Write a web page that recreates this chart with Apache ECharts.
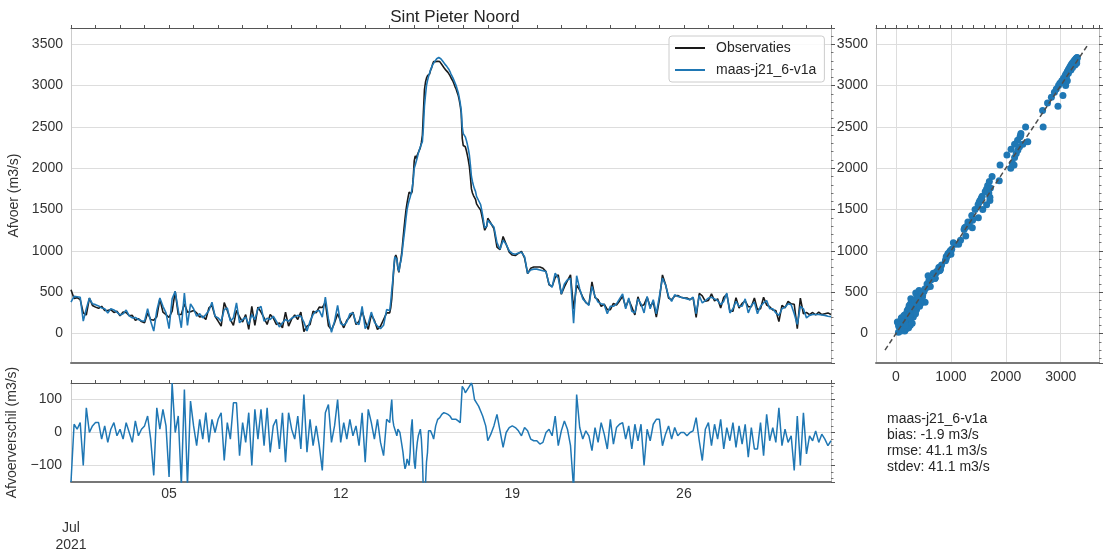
<!DOCTYPE html>
<html>
<head>
<meta charset="utf-8">
<script src="https://cdn.jsdelivr.net/npm/echarts@6/dist/echarts.min.js"></script>
<style>
  html, body { margin: 0; padding: 0; background: #ffffff; }
  #chart { width: 1104px; height: 549px; }
</style>
</head>
<body>
<div id="chart"></div>
<script>
// Discharge at Sint Pieter Noord, July 2021: model run against observations.
const stationName = 'Sint Pieter Noord';
const obsLabel = 'Observaties';
const modelLabel = 'maas-j21_6-v1a';

// Modelled discharge (m3/s) and model-minus-observation difference (m3/s).
// Low flow periods are 3-hourly, the flood wave of 14-17 July is hourly.

// 1-13 Jul, 3-hourly from 00:00
const modelEarly = [
  380, 450, 445, 440, 150, 300, 430, 360,
  350, 335, 310, 300, 250, 300, 285, 260,
  225, 240, 285, 215, 190, 195, 170, 155,
  150, 300, 150, 30, 280, 430, 330, 250,
  60, 420, 510, 280, 70, 490, 100, 360,
  300, 210, 240, 190, 230, 280, 380, 210,
  190, 150, 290, 310, 150, 190, 370, 130,
  170, 200, 110, 230, 170, 300, 330, 150,
  185, 170, 210, 150, 80, 130, 170, 150,
  185, 205, 220, 210, 140, 30, 150, 230,
  270, 280, 200, 440, 180, 15, 150, 340,
  120, 100, 140, 240, 250, 130, 110, 330,
  60, 120, 260, 140, 90, 60, 100, 290
];
const diffEarly = [
  -150, 25, 10, 30, -100, 75, 0, 20,
  30, 30, -20, 20, -30, 10, 30, -10,
  10, -20, 30, 0, -30, 35, -10, 10,
  20, 50, -20, -130, 75, 10, 70, 20,
  -135, 150, 0, 50, -160, 130, -160, 95,
  20, -40, 40, -20, 60, -30, 40, 0,
  40, 60, -85, 30, -20, 90, 90, -70,
  30, -30, 60, -100, 70, -20, 70, -40,
  75, -60, 20, 40, -50, 60, -90, 60,
  10, -20, 50, -50, 115, -60, 40, -40,
  20, -40, -115, 60, 85, -30, 20, 100,
  -30, 30, -20, 40, -10, 20, -40, 60,
  -90, 70, 30, -20, 40, -30, -70, 40
];

// 14-17 Jul, hourly from 00:00
const modelFlood = [
  280, 380, 520, 640, 800, 930, 950, 900, 800, 750, 830, 880,
  960, 1080, 1180, 1280, 1400, 1500, 1560, 1610, 1650, 1700, 1760, 1850,
  2000, 2040, 2060, 2130, 2180, 2220, 2260, 2290, 2320, 2500, 2750, 2880,
  3000, 3060, 3110, 3150, 3190, 3220, 3250, 3270, 3290, 3310, 3325, 3335,
  3340, 3335, 3325, 3310, 3295, 3280, 3260, 3245, 3230, 3215, 3195, 3170,
  3140, 3120, 3090, 3060, 3030, 3000, 2960, 2920, 2860, 2790, 2700, 2500,
  2420, 2400, 2380, 2340, 2290, 2230, 2160, 2040, 1900, 1840, 1790, 1750,
  1720, 1660, 1640, 1610, 1590, 1560, 1500, 1430, 1350, 1280, 1260, 1300
];
const diffFlood = [
  30, 70, 100, 40, 20, 10, 0, -10, 10, 10, 0, -20,
  -40, -60, -90, -110, -100, -80, -90, -100, -60, 10, 40, -30,
  -90, -110, -60, -30, -10, 0, 10, -20, -80, -180, -200, -160,
  -90, -60, 5, 10, 5, 5, -10, -20, 0, 20, 30, 40,
  40, 45, 50, 55, 55, 60, 60, 58, 55, 55, 55, 50,
  45, 40, 40, 40, 45, 40, 40, 35, 30, 30, 30, 140,
  145, 130, 120, 125, 130, 135, 140, 145, 150, 140, 120, 100,
  95, 90, 85, 80, 75, 65, 60, 50, 40, 30, 20, 0
];

// 18 Jul - 1 Aug 00:00, 3-hourly
const modelLate = [
  1370, 1330, 1290, 1100, 1020, 1130, 1080, 1000,
  970, 960, 975, 985, 930, 730, 770, 780,
  780, 770, 760, 750, 600, 560, 730, 670,
  480, 600, 650, 670, 125, 700, 540, 420,
  380, 340, 570, 450, 380, 360, 350, 240,
  330, 330, 360, 420, 480, 300, 430, 270,
  250, 420, 360, 250, 450, 300, 410, 240,
  450, 670, 590, 450, 390, 470, 450, 440,
  430, 420, 410, 440, 240, 460, 370, 400,
  430, 440, 420, 400, 350, 390, 490, 250,
  300, 390, 330, 330, 420, 250, 340, 380,
  240, 330, 370, 400, 300, 300, 250, 220,
  300, 320, 360, 350, 240, 110, 330, 300,
  190, 220, 230, 230, 230, 225, 220, 210,
  205
];
const diffLate = [
  -25, -5, 20, 55, 5, -45, 0, 15,
  20, 15, 5, -10, 15, 5, -20, -25,
  -25, -35, -30, 0, 10, -10, 50, -40,
  5, 35, 10, -40, -170, 115, 15, -20,
  5, -10, -55, 15, -30, 30, -5, -50,
  40, -35, 15, 25, 30, -20, 20, -50,
  25, -25, 25, -100, 10, -25, 25, 40,
  40, -40, -5, 20, -20, 15, -10, 0,
  0, -10, 0, 5, 45, -25, -85, 10,
  30, -40, 25, -20, 40, -50, 15, -25,
  30, -45, 20, -35, 25, -75, 15, -50,
  -50, 30, -70, 55, -25, 15, -30, 75,
  -40, 10, -30, -10, -115, 50, -100, 60,
  -65, -10, -25, 5, -30, -5, -20, -40,
  -25
];

// Date tick labels (days after 1 Jul)
const dateTickDays = [0, 4, 11, 18, 25];
const dateTickLabels = ['\n\nJul\n2021', '05', '12', '19', '26'];

const statsLines = ['maas-j21_6-v1a', 'bias: -1.9 m3/s', 'rmse: 41.1 m3/s', 'stdev: 41.1 m3/s'];
const diagonalEnds = [-200, 3500];

// Sample times in days after 1 Jul 00:00
const floodStartDay = 13, lateStartDay = 17;
const days = [
  ...modelEarly.map((_, i) => i / 8),
  ...modelFlood.map((_, i) => floodStartDay + i / 24),
  ...modelLate.map((_, i) => lateStartDay + i / 8)
];
const modelFlow = [...modelEarly, ...modelFlood, ...modelLate];
const flowDiff = [...diffEarly, ...diffFlood, ...diffLate];
const obsFlow = modelFlow.map((m, i) => m - flowDiff[i]);

const obsData = days.map((d, i) => [d, obsFlow[i]]);
const modelData = days.map((d, i) => [d, modelFlow[i]]);
const diffData = days.map((d, i) => [d, flowDiff[i]]);
const scatterData = obsFlow.map((o, i) => [o, modelFlow[i]]);
const diagonalData = diagonalEnds.map(v => [v, v]);

const FONT = 'Liberation Sans, Arial, sans-serif';
const labelColor = '#333333';
const gridColor = '#dddddd';
const tickColor = '#555555';
const blue = '#1f77b4';

const flowMin = -356, flowMax = 3697;
const dayMin = 0, dayMax = 31;

function plain(v) { return String(v).replace('-', '\u2212'); }

function bottomAxis(grid, opts) {
  return Object.assign({
    type: 'value', gridIndex: grid, position: 'bottom',
    min: dayMin, max: dayMax,
    axisLine: { show: true, onZero: false, lineStyle: { color: '#777777', width: 2 } },
    axisTick: { show: false },
    axisLabel: { show: false },
    splitLine: { show: false }
  }, opts || {});
}
function topAxis(grid) {
  return {
    type: 'value', gridIndex: grid, position: 'top',
    min: dayMin, max: dayMax, interval: 1,
    axisLine: { show: true, onZero: false, lineStyle: { color: tickColor, width: 1 } },
    axisTick: { show: true, length: 3, lineStyle: { color: tickColor, width: 1 } },
    axisLabel: { show: false },
    splitLine: { show: false }
  };
}
function rightAxis(grid, min, max, splitNumber) {
  return {
    type: 'value', gridIndex: grid, position: 'right',
    min: min, max: max, splitNumber: splitNumber,
    axisLine: { show: true, onZero: false, lineStyle: { color: '#bbbbbb', width: 1 } },
    axisTick: { show: true, length: 4, lineStyle: { color: tickColor, width: 1 } },
    minorTick: { show: true, splitNumber: 5, length: 2.5, lineStyle: { color: tickColor, width: 0.8 } },
    axisLabel: { show: false },
    splitLine: { show: false }
  };
}

const chart = echarts.init(document.getElementById('chart'), null, { renderer: 'canvas' });

chart.setOption({
  animation: false,
  backgroundColor: '#ffffff',
  textStyle: { fontFamily: FONT },
  title: {
    text: stationName, left: 450, top: 4, textAlign: 'center',
    textStyle: { fontFamily: FONT, fontSize: 17, fontWeight: 'normal', color: '#262626' }
  },
  legend: {
    data: [obsLabel, modelLabel],
    left: 669, top: 36, orient: 'vertical',
    padding: [4, 8, 4, 6], itemGap: 6,
    itemWidth: 30, itemHeight: 2, icon: 'rect',
    borderColor: '#cccccc', borderWidth: 1, borderRadius: 3,
    backgroundColor: 'rgba(255,255,255,0.85)',
    textStyle: { fontFamily: FONT, fontSize: 14, color: '#262626', lineHeight: 16, padding: [0, 0, 0, 6] }
  },
  grid: [
    { left: 71, top: 28, width: 760, height: 335, outerBoundsMode: 'none', containLabel: false },
    { left: 71, top: 383, width: 760, height: 99, outerBoundsMode: 'none', containLabel: false },
    { left: 876, top: 28, width: 223, height: 335, outerBoundsMode: 'none', containLabel: false }
  ],
  xAxis: [
    bottomAxis(0),
    topAxis(0),
    bottomAxis(1, {
      interval: 1,
      axisLabel: {
        show: true, margin: 4, color: labelColor, fontFamily: FONT, fontSize: 14, lineHeight: 17,
        showMinLabel: true, showMaxLabel: false, hideOverlap: false,
        formatter: v => {
          const k = dateTickDays.indexOf(Math.round(v));
          return (k >= 0 && Math.abs(v - dateTickDays[k]) < 1e-6) ? dateTickLabels[k] : '';
        }
      }
    }),
    topAxis(1),
    {
      type: 'value', gridIndex: 2, position: 'bottom',
      min: flowMin - 8, max: flowMax, splitNumber: 4,
      axisLine: { show: true, onZero: false, lineStyle: { color: '#777777', width: 2 } },
      axisTick: { show: false },
      axisLabel: { show: true, margin: 7, color: labelColor, fontFamily: FONT, fontSize: 14,
        showMinLabel: false, showMaxLabel: false, formatter: plain },
      splitLine: { show: true, lineStyle: { color: gridColor, width: 1 } }
    },
    {
      type: 'value', gridIndex: 2, position: 'top',
      min: flowMin - 8, max: flowMax, splitNumber: 4,
      axisLine: { show: true, onZero: false, lineStyle: { color: tickColor, width: 1 } },
      axisTick: { show: true, length: 3, lineStyle: { color: tickColor, width: 1 } },
      minorTick: { show: true, splitNumber: 5, length: 3, lineStyle: { color: tickColor, width: 1 } },
      axisLabel: { show: false },
      splitLine: { show: false }
    }
  ],
  yAxis: [
    {
      type: 'value', gridIndex: 0, position: 'left',
      min: flowMin, max: flowMax, splitNumber: 8,
      name: 'Afvoer (m3/s)', nameLocation: 'middle', nameGap: 46,
      nameTextStyle: { fontFamily: FONT, fontSize: 14, color: labelColor },
      axisLine: { show: true, onZero: false, lineStyle: { color: '#cccccc', width: 1 } },
      axisTick: { show: false },
      axisLabel: { margin: 8, color: labelColor, fontFamily: FONT, fontSize: 14,
        showMinLabel: false, showMaxLabel: false, formatter: plain },
      splitLine: { show: true, lineStyle: { color: gridColor, width: 1 } }
    },
    rightAxis(0, flowMin, flowMax, 8),
    {
      type: 'value', gridIndex: 1, position: 'left',
      min: -150, max: 150, splitNumber: 3,
      name: 'Afvoerverschil (m3/s)', nameLocation: 'middle', nameGap: 46,
      nameTextStyle: { fontFamily: FONT, fontSize: 14, color: labelColor },
      axisLine: { show: true, onZero: false, lineStyle: { color: '#cccccc', width: 1 } },
      axisTick: { show: false },
      axisLabel: { margin: 9, color: labelColor, fontFamily: FONT, fontSize: 14,
        showMinLabel: false, showMaxLabel: false, formatter: plain },
      splitLine: { show: true, lineStyle: { color: gridColor, width: 1 } }
    },
    rightAxis(1, -150, 150, 3),
    {
      type: 'value', gridIndex: 2, position: 'left',
      min: flowMin, max: flowMax, splitNumber: 8,
      axisLine: { show: true, onZero: false, lineStyle: { color: '#cccccc', width: 1 } },
      axisTick: { show: false },
      axisLabel: { margin: 8, color: labelColor, fontFamily: FONT, fontSize: 14,
        showMinLabel: false, showMaxLabel: false, formatter: plain },
      splitLine: { show: true, lineStyle: { color: gridColor, width: 1 } }
    },
    rightAxis(2, flowMin, flowMax, 8)
  ],
  series: [
    {
      name: obsLabel, type: 'line', xAxisIndex: 0, yAxisIndex: 0,
      data: obsData, symbol: 'none', color: '#1a1a1a',
      lineStyle: { color: '#1a1a1a', width: 1.6 }, z: 3
    },
    {
      name: modelLabel, type: 'line', xAxisIndex: 0, yAxisIndex: 0,
      data: modelData, symbol: 'none', color: blue,
      lineStyle: { color: blue, width: 1.6 }, z: 4
    },
    {
      name: 'verschil', type: 'line', xAxisIndex: 2, yAxisIndex: 2,
      data: diffData, symbol: 'none',
      lineStyle: { color: blue, width: 1.5 }, z: 3
    },
    {
      name: 'scatter', type: 'scatter', xAxisIndex: 4, yAxisIndex: 4,
      data: scatterData, symbol: 'circle', symbolSize: 7,
      itemStyle: { color: blue, opacity: 1 }, z: 3
    },
    {
      name: '1:1', type: 'line', xAxisIndex: 4, yAxisIndex: 4,
      data: diagonalData, symbol: 'none',
      lineStyle: { color: '#4d4d4d', width: 1.5, type: [5, 3] }, z: 5
    }
  ],
  graphic: [
    {
      type: 'text', left: 887, top: 411,
      style: {
        text: statsLines.join('\n'),
        font: '14px ' + FONT, lineHeight: 16, fill: '#262626'
      }
    }
  ]
});
</script>
</body>
</html>
